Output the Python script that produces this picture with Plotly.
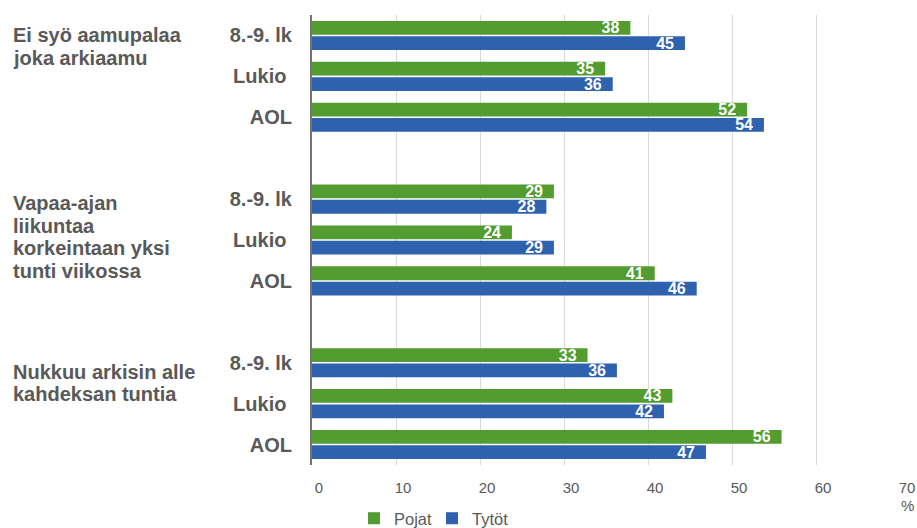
import plotly.graph_objects as go

# ---- data ----
group_lines = [
    ["Ei syö aamupalaa", "joka arkiaamu"],
    ["Vapaa-ajan", "liikuntaa", "korkeintaan yksi", "tunti viikossa"],
    ["Nukkuu arkisin alle", "kahdeksan tuntia"],
]
subcats = ["8.-9. lk", "Lukio\u00a0", "AOL"]
series_names = ["Pojat", "Tytöt"]

# bar lengths (per group: 8.-9. lk, Lukio, AOL)
pojat_values = [37.9, 34.9, 51.8, 28.8, 23.8, 40.8, 32.8, 42.9, 55.9]
tytot_values = [44.4, 35.8, 53.8, 27.9, 28.8, 45.8, 36.3, 41.9, 46.9]
# printed data labels
pojat_labels = [38, 35, 52, 29, 24, 41, 33, 43, 56]
tytot_labels = [45, 36, 54, 28, 29, 46, 36, 42, 47]

x_ticks = [0, 10, 20, 30, 40, 50, 60, 70]

# ---- styling ----
GREEN = "#529C30"
BLUE = "#2F62AE"
GRAY_TEXT = "#595959"
FONT = "Liberation Sans, Arial, sans-serif"

n_sub = len(subcats)
slot = n_sub + 1
positions = [g * slot + s for g in range(len(group_lines)) for s in range(n_sub)]
ticktext = [s for _ in group_lines for s in subcats]
last_pos = positions[-1]

fig = go.Figure()
for name, vals, labels, color in [
    (series_names[0], pojat_values, pojat_labels, GREEN),
    (series_names[1], tytot_values, tytot_labels, BLUE),
]:
    fig.add_trace(go.Bar(
        y=positions, x=vals, orientation="h", name=name,
        marker=dict(color=color, line=dict(width=0)),
        text=[f"{v}\u2002" for v in labels],
        textposition="inside", insidetextanchor="end",
        constraintext="none",
        textfont=dict(family=FONT, size=16, color="white", weight="bold"),
        hoverinfo="skip",
    ))

# group labels, one annotation per line
group_offsets = [0, 4, 9]
line_gap = 22.5
for g, lines in enumerate(group_lines):
    for i, line in enumerate(lines):
        fig.add_annotation(
            x=-0.512, xref="paper", xanchor="left",
            y=g * slot, yref="y", yanchor="middle",
            yshift=-(group_offsets[g] + i * line_gap),
            text=line, showarrow=False, align="left",
            font=dict(family=FONT, size=20, color=GRAY_TEXT, weight="bold"),
        )

fig.add_annotation(
    x=1.0136, xref="paper", xanchor="center",
    y=-0.089, yref="paper", yanchor="middle",
    text="%", showarrow=False,
    font=dict(family=FONT, size=15, color=GRAY_TEXT),
)

fig.update_layout(
    width=917, height=528,
    margin=dict(l=312, r=17, t=15, b=63, autoexpand=False),
    paper_bgcolor="white", plot_bgcolor="white",
    barmode="group", bargap=0.25, bargroupgap=0.1,
    showlegend=True,
    legend=dict(
        orientation="h", x=0.0714, xanchor="left", y=-0.08, yanchor="top",
        font=dict(family=FONT, size=16.5, color=GRAY_TEXT),
        traceorder="normal", entrywidth=33, entrywidthmode="pixels",
    ),
    xaxis=dict(
        range=[0, 70], tickvals=x_ticks, ticktext=[str(t) for t in x_ticks],
        showgrid=True, gridcolor="#d9d9d9", gridwidth=1,
        zeroline=False, showline=False, ticks="",
        ticklabelshift=7, ticklabelstandoff=12,
        tickfont=dict(family=FONT, size=15, color=GRAY_TEXT),
        fixedrange=True,
    ),
    yaxis=dict(
        range=[last_pos + 0.5, -0.5],
        tickvals=positions, ticktext=ticktext,
        showgrid=False, zeroline=False,
        showline=True, linecolor="#737373", linewidth=2,
        ticks="", ticklabelstandoff=14,
        tickfont=dict(family=FONT, size=20, color=GRAY_TEXT, weight="bold"),
        fixedrange=True,
    ),
)

fig.write_html("out.html")
